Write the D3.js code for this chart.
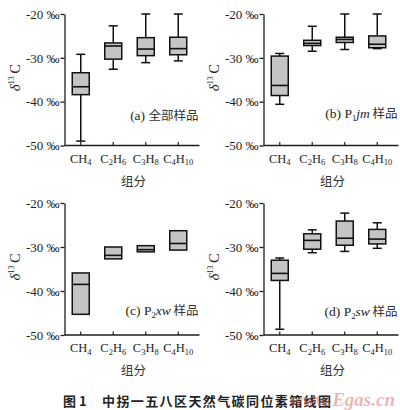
<!DOCTYPE html>
<html>
<head>
<meta charset="utf-8">
<script src="https://cdn.jsdelivr.net/npm/d3@7"></script>
<style>
  html, body { margin: 0; padding: 0; background: #ffffff; }
  svg { display: block; }
</style>
</head>
<body>
<svg id="chart" width="400" height="410"></svg>
<script>
// Gas components on the x axis
const categories = ["CH4", "C2H6", "C3H8", "C4H10"];

// Box statistics per component: [min, q1, median, q3, max] in ‰ (δ13C)
const statsAll  = [[-49.0, -38.4, -36.6, -33.4, -29.2],
                   [-32.6, -30.3, -27.3, -26.6, -22.7],
                   [-31.1, -29.5, -28.0, -25.4, -20.0],
                   [-30.7, -29.3, -27.9, -25.3, -20.0]];
const statsP1jm = [[-40.6, -38.6, -36.3, -29.6, -29.0],
                   [-28.5, -27.2, -26.7, -26.0, -22.8],
                   [-28.1, -26.5, -25.8, -25.3, -20.0],
                   [-27.9, -27.7, -26.9, -25.0, -20.0]];
const statsP2xw = [[null, -45.3, -38.5, -35.9, null],
                   [null, -32.7, -31.9, -30.0, null],
                   [null, -31.1, -30.6, -29.7, null],
                   [null, -30.7, -29.2, -26.3, null]];
const statsP2sw = [[-48.7, -37.6, -36.0, -33.0, -32.5],
                   [-31.3, -30.5, -28.5, -27.0, -26.1],
                   [-31.0, -29.6, -28.0, -24.1, -22.3],
                   [-30.3, -29.3, -28.2, -26.0, -24.5]];

// Axis ticks and labels
const yTicks = [-50, -40, -30, -20];
const yDomain = [-50, -20];
const xTitle = "组分";
const panelTitles = ["(a) |全部样品", "(b) P|1|jm| 样品", "(c) P|2|xw| 样品", "(d) P|2|sw| 样品"];
const figNumber = "图 1";
const caption = "中拐一五八区天然气碳同位素箱线图";
const watermark = "www.Egas.cn";

const svg = d3.select("#chart");
const latin = "'Liberation Serif', 'Times New Roman', serif";
const cjk = "'Noto Sans CJK SC', sans-serif";
const ink = "#1e1e1e";

// Panel frames: left axis x, axis top/bottom y
const panels = [
  { stats: statsAll,  title: panelTitles[0], x0: 64.5,  top: 14,  bottom: 145.5, titleY: 120 },
  { stats: statsP1jm, title: panelTitles[1], x0: 263.5, top: 14,  bottom: 145.5, titleY: 118 },
  { stats: statsP2xw, title: panelTitles[2], x0: 64.5,  top: 203, bottom: 335,   titleY: 315 },
  { stats: statsP2sw, title: panelTitles[3], x0: 263.5, top: 203, bottom: 335,   titleY: 316 }
];

// Chemical formula with subscript digits, e.g. C2H6
function subscriptFormula(sel, name, size) {
  const parts = name.match(/[A-Z]|\d+/g);
  let shifted = false;
  parts.forEach(p => {
    const isSub = /\d/.test(p);
    const t = sel.append("tspan").text(p);
    if (isSub) {
      t.attr("font-size", size * 0.68).attr("dy", 2.5);
      shifted = true;
    } else {
      t.attr("font-size", size);
      if (shifted) { t.attr("dy", -2.5); shifted = false; }
    }
  });
}

function drawPanel(p) {
  const g = svg.append("g");
  const y = d3.scaleLinear().domain(yDomain).range([p.bottom, p.top]);
  const x = d3.scaleBand().domain(categories).range([p.x0, p.x0 + 130]).paddingInner(0).paddingOuter(0);
  const boxW = 17, capW = 9;

  // y axis with outward ticks
  const yAxis = d3.axisLeft(y).tickValues(yTicks).tickSize(4).tickSizeOuter(0).tickFormat(d => `-${Math.abs(d)} ‰`);
  const ya = g.append("g").attr("transform", `translate(${p.x0},0)`).call(yAxis)
    .attr("font-family", latin).attr("font-size", 13);
  ya.selectAll("path, line").attr("stroke", ink).attr("stroke-width", 1.3);
  ya.selectAll(".tick text").attr("x", -5).attr("fill", ink);

  // x axis with inward ticks
  const xa = g.append("g").attr("transform", `translate(0,${p.bottom})`);
  xa.append("line").attr("x1", p.x0).attr("x2", x.range()[1] + 5)
    .attr("stroke", ink).attr("stroke-width", 1.3);
  xa.selectAll("line.tk").data(categories).join("line").attr("class", "tk")
    .attr("x1", d => x(d) + x.bandwidth() / 2).attr("x2", d => x(d) + x.bandwidth() / 2)
    .attr("y1", 0).attr("y2", -3.5).attr("stroke", ink).attr("stroke-width", 1.2);
  xa.selectAll("text.lab").data(categories).join("text").attr("class", "lab")
    .attr("x", d => x(d) + x.bandwidth() / 2).attr("y", 17)
    .attr("text-anchor", "middle").attr("font-family", latin).attr("font-size", 12.5).attr("fill", ink)
    .each(function (d) { subscriptFormula(d3.select(this), d, 12.5); });

  // x title
  g.append("text").attr("x", p.x0 + 69).attr("y", p.bottom + 40)
    .attr("text-anchor", "middle").attr("font-family", cjk).attr("font-size", 12.5)
    .attr("fill", "#333").text(xTitle);

  // y title: δ13C rotated
  const yt = g.append("text")
    .attr("transform", `translate(${p.x0 - 45},${(p.top + p.bottom) / 2 - 2}) rotate(-90)`)
    .attr("text-anchor", "middle").attr("font-family", latin).attr("font-size", 14).attr("fill", ink);
  yt.append("tspan").attr("font-style", "italic").attr("font-size", 15).text("δ");
  yt.append("tspan").attr("font-size", 8).attr("dy", -6).text("13");
  yt.append("tspan").attr("font-size", 14).attr("dy", 6).text("\u2009C");

  // panel title: "|" separates plain, subscript, italic and CJK parts
  const segs = p.title.split("|");
  const tt = g.append("text").attr("x", p.x0 + 134).attr("y", p.titleY)
    .attr("text-anchor", "end").attr("font-family", latin).attr("font-size", 13.5).attr("fill", ink);
  if (segs.length === 2) {
    tt.append("tspan").text(segs[0]);
    tt.append("tspan").attr("font-family", cjk).attr("font-size", 12.5).attr("fill", "#333").text(segs[1]);
  } else {
    tt.append("tspan").text(segs[0]);
    tt.append("tspan").attr("font-size", 8.5).attr("dy", 2.5).text(segs[1]);
    tt.append("tspan").attr("dy", -2.5).attr("font-style", "italic").text(segs[2]);
    tt.append("tspan").attr("font-family", cjk).attr("font-size", 12.5).attr("fill", "#333").text(segs[3]);
  }

  // boxes and whiskers
  const rows = categories.map((c, i) => ({ c, s: p.stats[i] }));
  const bx = g.selectAll("g.box").data(rows).join("g").attr("class", "box")
    .attr("transform", d => `translate(${x(d.c) + x.bandwidth() / 2},0)`)
    .attr("stroke", "#111").attr("stroke-width", 1.5);

  bx.filter(d => d.s[4] !== null).each(function (d) {
    const b = d3.select(this);
    const [mn, q1, , q3, mx] = d.s;
    b.append("line").attr("x1", 0).attr("x2", 0).attr("y1", y(mx)).attr("y2", y(q3));
    b.append("line").attr("x1", 0).attr("x2", 0).attr("y1", y(q1)).attr("y2", y(mn));
    b.append("line").attr("x1", -capW / 2).attr("x2", capW / 2).attr("y1", y(mx)).attr("y2", y(mx));
    b.append("line").attr("x1", -capW / 2).attr("x2", capW / 2).attr("y1", y(mn)).attr("y2", y(mn));
  });
  bx.append("rect")
    .attr("x", -boxW / 2).attr("width", boxW)
    .attr("y", d => y(d.s[3])).attr("height", d => y(d.s[1]) - y(d.s[3]))
    .attr("fill", "#c4c4c4");
  bx.append("line")
    .attr("x1", -boxW / 2).attr("x2", boxW / 2)
    .attr("y1", d => y(d.s[2])).attr("y2", d => y(d.s[2]))
    .attr("stroke-width", 1.6);
}

panels.forEach(drawPanel);

// figure caption
svg.append("text").attr("x", 63).attr("y", 406)
  .attr("font-family", cjk).attr("font-weight", "bold").attr("font-size", 13)
  .attr("fill", "#222").text(figNumber);
svg.append("text").attr("x", 102).attr("y", 406)
  .attr("font-family", cjk).attr("font-weight", "bold").attr("font-size", 13)
  .attr("letter-spacing", 1.4).attr("fill", "#222").text(caption);

// site watermark
svg.append("text").attr("x", 395).attr("y", 406).attr("text-anchor", "end")
  .attr("font-family", latin).attr("font-style", "italic").attr("font-weight", "bold")
  .attr("font-size", 19).attr("fill", "#e06a6a").attr("fill-opacity", 0.5)
  .text(watermark);
</script>
</body>
</html>
